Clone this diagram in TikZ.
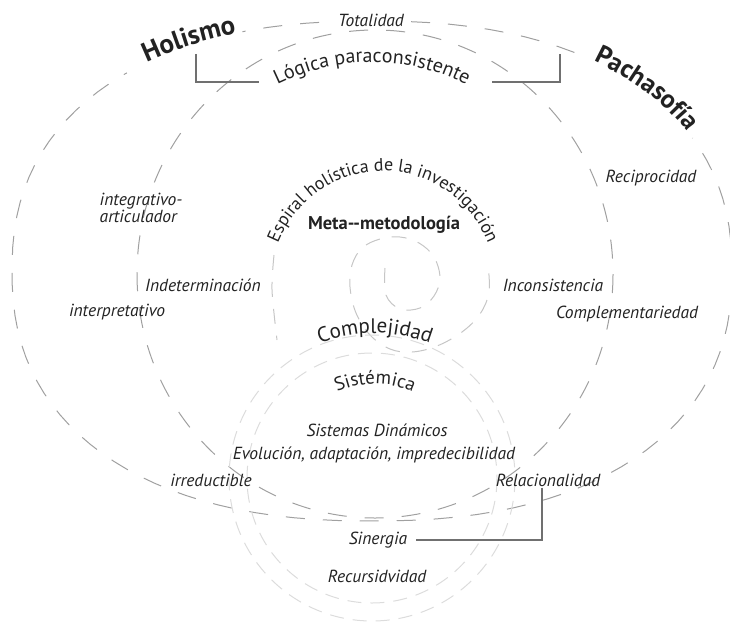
\documentclass[tikz,border=0pt]{standalone}
\usepackage{fontspec}
\setmainfont{PT Sans}
\usetikzlibrary{decorations.text}

\definecolor{rimgray}{HTML}{A0A0A0}
\definecolor{spiralgray}{HTML}{C6C6C6}
\definecolor{ringgray}{HTML}{DCDCDC}
\definecolor{linkgray}{HTML}{707070}
\definecolor{inkgray}{HTML}{222222}

\tikzset{
  rim/.style={draw=rimgray, line width=1pt, dash pattern=on 19pt off 18pt},
  spiralline/.style={draw=spiralgray, line width=1pt, dash pattern=on 15pt off 12pt},
  ringline/.style={draw=ringgray, line width=1pt, dash pattern=on 14pt off 9pt},
  link/.style={draw=linkgray, line width=1.3pt},
  lbl/.style={text=inkgray, font=\fontsize{17.5}{15}\selectfont\itshape, inner sep=1pt},
  blank/.style={draw=white, line width=5pt},
}

\begin{document}
\begin{tikzpicture}[x=1pt, y=-1pt,
  declare function={ox(\t)=372+360*cos(\t)*abs(cos(\t))^(-0.13);
                    oy(\t)=271+250*sin(\t)*abs(sin(\t))^(-0.13);}]
\useasboundingbox (0,0) rectangle (730,634);

% the two rims
\draw[rim] plot[domain=1:361, samples=121] ({ox(\x)},{oy(\x)}) -- cycle;
\draw[rim] (375,274) ellipse [x radius=238, y radius=244];
\draw[blank] plot[domain=-130:-108, samples=12] ({ox(\x)},{oy(\x)});
\draw[blank] plot[domain=-56:-29, samples=12] ({ox(\x)},{oy(\x)});

% spiral and lower rings
\draw[spiralline] plot[smooth, tension=0.6] coordinates {(385,268) (386,295) (400,309) (420,308)
  (434,296) (440,278) (434,257) (419,243) (400,237) (380,239) (362,248) (352,265) (350,287)
  (356,313) (370,335) (390,349) (412,352) (437,346) (462,332) (480,314) (489,292) (488,265)};
\draw[spiralline] plot[smooth] coordinates {(274,255) (272,290) (277,340)};
\foreach \r in {143,125}
  \draw[ringline] (372,478) circle [radius=\r];

% texts along the curves
\path[decorate, decoration={text along path, text align=center,
  text={|\color{inkgray}\fontsize{27}{27}\selectfont\bfseries|Holismo}}]
  plot[domain=-140:-98, samples=20] ({ox(\x)},{oy(\x)});
\path[decorate, decoration={text along path, text align=center,
  text={|\color{inkgray}\fontsize{26}{26}\selectfont\bfseries|Pachasofía}}]
  plot[domain=-63:-21, samples=20] ({ox(\x)},{oy(\x)});
\path[decorate, decoration={text along path, text align=center,
  text={|\color{inkgray}\fontsize{20}{20}\selectfont|Lógica paraconsistente}}]
  plot[domain=-150:-30, samples=40] ({372+205*cos(\x)},{267+205*sin(\x)});
\path[decorate, decoration={text along path, text align=center,
  text={|\color{inkgray}\fontsize{18}{18}\selectfont|Espiral holística de la investigación}}]
  plot[domain=-178:-2, samples=60] ({383+112*cos(\x)},{283+112*sin(\x)});
\path[decorate, decoration={text along path, text align=center,
  text={|\color{inkgray}\fontsize{21}{21}\selectfont|Complejidad}}]
  plot[domain=-135:-45, samples=30] ({375+145*cos(\x)},{478+145*sin(\x)});
\path[decorate, decoration={text along path, text align=center,
  text={|\color{inkgray}\fontsize{19}{19}\selectfont|Sistémica}}]
  plot[domain=-150:-30, samples=30] ({375+94*cos(\x)},{478+94*sin(\x)});

% labels
\node[lbl, fill=white] (total) at (371,20) {Totalidad};
\node[lbl] (recip) at (651,178) {Reciprocidad};
\node[lbl, align=left] (integ) at (141,208) {integrativo-\\articulador};
\node[lbl] (indet) at (203,285) {Indeterminación};
\node[lbl] (interp) at (117,312) {interpretativo};
\node[lbl] (incons) at (553,285) {Inconsistencia};
\node[lbl] (compl) at (627,314) {Complementariedad};
\node[text=inkgray, font=\fontsize{18.5}{18.5}\selectfont\bfseries] (meta) at (384,225) {Meta-{}-metodología};
\node[lbl] (sisdin) at (377,430) {Sistemas Dinámicos};
\node[lbl] (evol) at (374,455) {Evolución, adaptación, impredecibilidad};
\node[lbl] (irred) at (211,480) {irreductible};
\node[lbl] (relac) at (548,480) {Relacionalidad};
\node[lbl] (siner) at (378,540) {Sinergia};
\node[lbl] (recur) at (377,576) {Recursidvidad};

% brackets
\coordinate (holfoot) at (196,54);
\coordinate (lgcW) at (259,82);
\coordinate (pachfoot) at (560,54);
\coordinate (lgcE) at (492,82);
\draw[link] (holfoot) |- (lgcW);
\draw[link] (pachfoot) |- (lgcE);
\draw[link, shorten >=8pt] ([xshift=-6pt]relac.south) |- (siner.east);
\end{tikzpicture}
\end{document}
